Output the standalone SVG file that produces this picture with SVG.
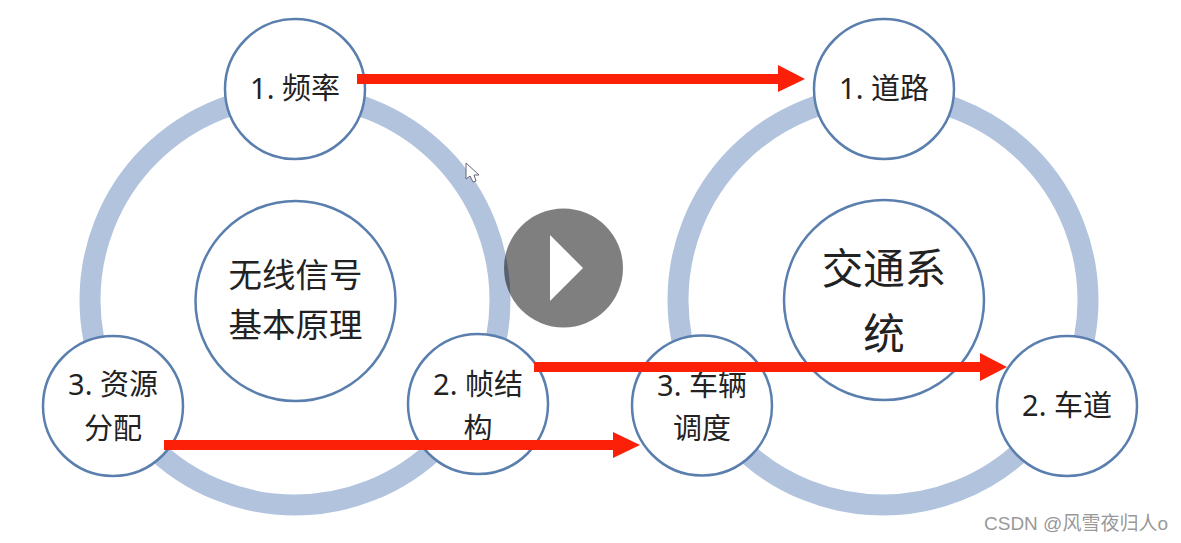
<svg xmlns="http://www.w3.org/2000/svg" width="1181" height="543" viewBox="0 0 1181 543">
<defs>
<style>
.ring{fill:none;stroke:#b2c3de;stroke-width:21}
.node{fill:#fff;stroke:#5a7fae;stroke-width:2.500}
.t{font-family:"Noto Sans","Noto Sans CJK SC",sans-serif;fill:#222;text-anchor:middle;font-size:29px}
.big{font-size:33.500px}
.huge{font-size:41.500px}
.wire{fill:none;stroke:#fc2008;stroke-width:10}
.head{fill:#fc2008}
</style>
</defs>
<rect width="1181" height="543" fill="#fff"/>
<g id="rings">
<circle class="ring" cx="295" cy="300" r="205"/>
<circle class="ring" cx="883" cy="300" r="205"/>
</g>
<g id="center-left"><circle class="node" cx="295.500" cy="301" r="100"/>
<text class="t big" x="295.500" y="287">无线信号</text><text class="t big" x="295.500" y="337">基本原理</text></g>
<g id="center-right"><circle class="node" cx="884" cy="300" r="100"/>
<text class="t huge" x="884" y="284">交通系</text><text class="t huge" x="884" y="349">统</text></g>
<g id="n-freq"><circle class="node" cx="295" cy="89" r="70"/><text class="t" x="295" y="99">1. 频率</text></g>
<g id="n-res"><circle class="node" cx="113" cy="406" r="70"/><text class="t" x="113" y="395">3. 资源</text><text class="t" x="113" y="439">分配</text></g>
<g id="n-frame"><circle class="node" cx="478" cy="404" r="70"/><text class="t" x="478" y="395">2. 帧结</text><text class="t" x="478" y="439">构</text></g>
<g id="n-road"><circle class="node" cx="884" cy="89" r="70"/><text class="t" x="884" y="99">1. 道路</text></g>
<g id="n-sched"><circle class="node" cx="702" cy="405.500" r="70"/><text class="t" x="702" y="396">3. 车辆</text><text class="t" x="702" y="439">调度</text></g>
<g id="n-lane"><circle class="node" cx="1067" cy="406" r="70"/><text class="t" x="1067" y="416">2. 车道</text></g>
<g id="connectors">
<path class="wire" d="M357 79H780"/><polygon class="head" points="778,65 805,79 778,92"/>
<path class="wire" d="M534 367H982"/><polygon class="head" points="980,353 1007,367 980,381"/>
<path class="wire" d="M164 445H615"/><polygon class="head" points="613,432 640,445 613,458"/>
</g>
<g id="cursor"><path d="M466 163V179L470 176L473 182L476 181L474 175L479 175Z" fill="#fff" stroke="#667" stroke-width="1"/></g>
<g id="play"><circle cx="563.500" cy="268" r="59.500" fill="#000" fill-opacity=".5"/><polygon points="550,235 583,268 550,301" fill="#fff"/></g>
<text x="1076" y="530" font-family="'Liberation Sans','Noto Sans CJK SC',sans-serif" font-size="19" fill="#999" text-anchor="middle">CSDN @风雪夜归人o</text>
</svg>
